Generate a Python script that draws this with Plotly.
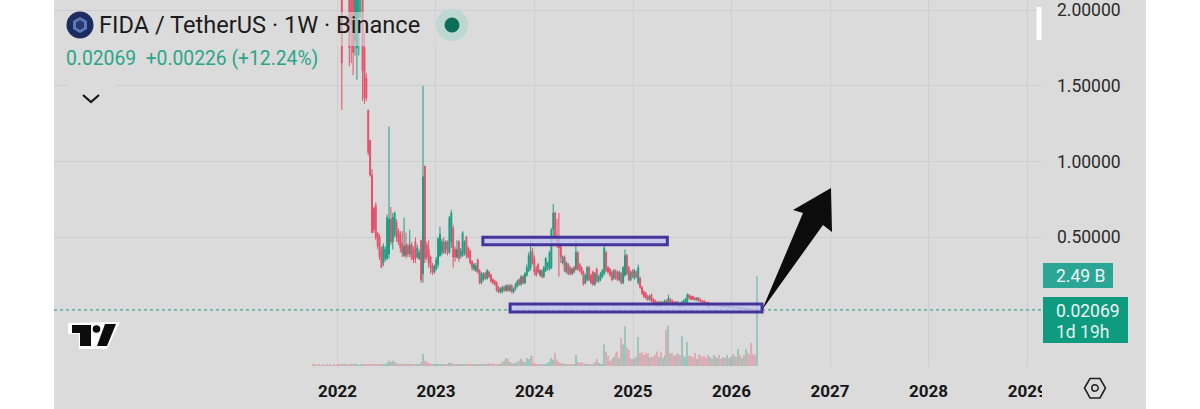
import pandas as pd
import plotly.graph_objects as go

# weekly candles (anything above ~2.07 is out of view)
opens = [
    9.5, 8.2, 7.4, 6.8, 6.1, 6.9, 6.2, 5.6, 5.1, 4.9,
    4.4, 4.0, 3.6, 3.3, 3.0, 2.5, 2.6, 2.9, 3.1, 2.4,
    2.5, 2.3, 1.8, 1.75, 1.95, 2.1, 2.5, 1.75, 1.55, 1.34,
    1.14, .91, .69, .71, .53, .5, .42, .33, .36, .36,
    .39, .62, .47, .52, .6, .54, .52, .46, .38, .45,
    .44, .39, .45, .42, .47, .37, .36, .48, .26, .97,
    .45, .42, .37, .31, .27, .29, .32, .38, .4, .47,
    .42, .47, .4, .47, .56, .42, .37, .47, .38, .38,
    .4, .5, .43, .41, .34, .29, .28, .35, .28, .2,
    .22, .26, .23, .27, .25, .22, .21, .2, .17, .14,
    .14, .17, .15, .18, .15, .18, .14, .16, .18, .22,
    .19, .24, .2, .25, .28, .3, .4, .36, .29, .32,
    .25, .28, .24, .28, .3, .29, .3, .55, .66, .5,
    .5, .44, .33, .37, .27, .32, .3, .26, .3, .29,
    .4, .32, .3, .27, .2, .22, .3, .25, .27, .19,
    .29, .21, .22, .24, .26, .4, .3, .29, .27, .23,
    .28, .27, .22, .26, .2, .25, .38, .3, .22, .28,
    .23, .27, .2, .23, .17, .14, .13, .11, .09, .12,
    .09, .08, .07, .05, .07, .06, .06, .08, .06, .09,
    .08, .07, .06, .07, .06, .05, .06, .07, .07, .12,
    .11, .11, .1, .09, .1, .09, .08, .08, .07, .07,
    .05, .055, .05, .052, .048, .05, .047, .044, .046, .042,
    .044, .04, .041, .037, .038, .034, .035, .031, .032, .028,
    .029, .026, .024, .021, .019, .01843,
]
closes = [
    8.2, 7.4, 6.8, 6.1, 6.9, 6.2, 5.6, 5.1, 4.9, 4.4,
    4.0, 3.6, 3.3, 3.0, 2.5, 1.65, 2.9, 3.1, 2.4, 1.75,
    1.9, 1.72, 2.2, 2.3, 2.4, 2.5, 1.6, 1.42, 1.42, 1.06,
    .91, .53, .55, .5, .44, .37, .3, .44, .42, .63,
    .62, .47, .63, .66, .5, .47, .43, .4, .44, .38,
    .39, .45, .36, .35, .36, .43, .4, .22, .9, .36,
    .37, .33, .3, .27, .31, .35, .49, .52, .47, .4,
    .47, .4, .63, .66, .37, .37, .42, .36, .41, .53,
    .47, .38, .37, .33, .3, .32, .31, .27, .2, .26,
    .26, .23, .28, .24, .21, .2, .19, .15, .14, .16,
    .17, .15, .18, .15, .18, .14, .16, .19, .21, .19,
    .24, .2, .26, .3, .38, .41, .33, .27, .25, .27,
    .28, .24, .3, .36, .33, .4, .55, .66, .5, .45,
    .43, .37, .37, .28, .33, .26, .26, .29, .27, .4,
    .29, .28, .26, .19, .25, .3, .22, .2, .19, .26,
    .21, .24, .26, .28, .43, .28, .27, .25, .22, .28,
    .23, .22, .27, .2, .3, .38, .26, .22, .27, .24,
    .28, .24, .3, .17, .13, .11, .1, .09, .11, .08,
    .07, .06, .05, .07, .05, .07, .08, .06, .1, .07,
    .06, .06, .07, .05, .05, .07, .08, .09, .12, .1,
    .09, .09, .09, .1, .08, .08, .07, .07, .06, .04,
    .055, .05, .052, .048, .05, .047, .044, .046, .042, .044,
    .04, .041, .037, .038, .034, .035, .031, .032, .028, .029,
    .026, .024, .021, .019, .01843, .02069,
]
highs = [
    10, 8.6, 7.9, 7.2, 7.3, 7.2, 6.4, 5.9, 5.3, 5.2,
    4.6, 4.2, 3.8, 3.5, 3.2, 3.0, 3.1, 3.4, 3.4, 2.9,
    2.8, 2.6, 2.6, 2.6, 2.7, 2.8, 2.8, 1.85, 1.58, 1.34,
    1.14, .95, .7, .73, .53, .52, .44, .46, .44, .65,
    1.23, .7, .66, .67, .62, .56, .54, .54, .63, .53,
    .46, .55, .47, .44, .5, .45, .42, .48, 1.5, .97,
    .47, .48, .38, .33, .32, .37, .5, .57, .49, .5,
    .48, .48, .64, .68, .58, .44, .48, .48, .43, .54,
    .48, .51, .44, .42, .35, .33, .33, .36, .29, .27,
    .27, .27, .29, .28, .26, .23, .22, .21, .18, .17,
    .18, .18, .19, .19, .19, .19, .17, .2, .22, .23,
    .25, .25, .27, .32, .4, .48, .43, .38, .31, .33,
    .29, .29, .31, .37, .34, .41, .56, .72, .67, .62,
    .66, .46, .38, .38, .34, .33, .31, .3, .31, .48,
    .41, .33, .31, .28, .26, .31, .31, .26, .28, .27,
    .3, .25, .27, .29, .45, .41, .31, .3, .28, .29,
    .29, .28, .28, .27, .31, .42, .39, .31, .28, .29,
    .29, .28, .32, .24, .18, .15, .14, .12, .12, .13,
    .1, .09, .08, .08, .08, .08, .09, .09, .12, .1,
    .09, .08, .08, .08, .07, .08, .09, .1, .13, .125,
    .115, .115, .105, .105, .105, .095, .085, .085, .075, .075,
    .06, .058, .055, .055, .052, .053, .05, .048, .048, .046,
    .047, .044, .043, .041, .04, .038, .037, .034, .034, .031,
    .031, .028, .026, .023, .021, .026,
]
lows = [
    7.9, 7.1, 6.4, 5.8, 6, 6, 5.4, 4.9, 4.7, 4.2,
    3.8, 3.4, 3.1, 2.8, 2.3, 1.34, 2.2, 2.3, 2.2, 1.63,
    1.65, 1.57, 1.7, 1.54, 1.7, 1.95, 1.4, 1.38, 1.4, 1.04,
    .9, .53, .53, .48, .42, .35, .3, .31, .34, .35,
    .36, .45, .42, .5, .47, .45, .4, .37, .37, .36,
    .37, .37, .35, .33, .33, .36, .35, .2, .2, .33,
    .35, .3, .26, .25, .26, .28, .3, .37, .38, .39,
    .39, .38, .39, .43, .3, .34, .36, .34, .36, .37,
    .38, .36, .36, .32, .28, .28, .27, .26, .19, .19,
    .21, .22, .22, .23, .2, .19, .18, .14, .13, .13,
    .13, .14, .14, .14, .14, .13, .13, .15, .17, .18,
    .18, .19, .19, .24, .27, .28, .32, .25, .24, .26,
    .24, .23, .23, .27, .28, .28, .29, .5, .48, .43,
    .24, .33, .32, .27, .26, .25, .25, .25, .26, .28,
    .28, .27, .25, .18, .19, .21, .21, .19, .18, .18,
    .2, .2, .21, .23, .25, .27, .26, .24, .21, .22,
    .22, .21, .21, .19, .19, .24, .25, .21, .21, .23,
    .22, .23, .19, .16, .12, .1, .09, .08, .08, .07,
    .06, .05, .04, .04, .04, .05, .05, .05, .05, .06,
    .05, .05, .05, .04, .04, .04, .05, .06, .06, .09,
    .085, .085, .08, .08, .075, .07, .065, .06, .05, .035,
    .045, .046, .047, .044, .045, .044, .04, .041, .039, .038,
    .037, .037, .034, .034, .031, .031, .029, .029, .026, .025,
    .024, .022, .019, .017, .016, .017,
]
# volume in billions
volumes = [
    .03, .03, .02, .03, .02, .03, .02, .03, .02, .03,
    .02, .03, .02, .03, .03, .04, .03, .03, .02, .03,
    .03, .04, .03, .03, .02, .03, .03, .04, .03, .03,
    .03, .04, .04, .03, .03, .03, .03, .03, .05, .08,
    .14, .11, .14, .11, .08, .06, .05, .06, .04, .07,
    .05, .04, .06, .04, .03, .05, .04, .11, .33, .14,
    .11, .08, .05, .06, .04, .05, .06, .05, .04, .03,
    .05, .03, .09, .08, .05, .04, .03, .04, .03, .05,
    .03, .03, .04, .03, .03, .03, .05, .03, .03, .03,
    .03, .06, .04, .08, .05, .07, .04, .03, .05, .03,
    .1, .14, .22, .19, .11, .08, .05, .08, .1, .14,
    .19, .14, .1, .22, .19, .28, .28, .08, .06, .05,
    .04, .03, .05, .06, .08, .11, .22, .17, .36, .17,
    .1, .08, .06, .05, .05, .04, .05, .04, .05, .3,
    .11, .08, .1, .06, .06, .05, .05, .04, .05, .11,
    .19, .08, .05, .06, .6, .4, .28, .14, .2, .25,
    .36, .4, .22, .77, .6, 1.1, .5, .45, .2, .18,
    .2, .25, .8, .35, .38, .3, .36, .35, .22, .25,
    .25, .3, .4, .25, .38, .22, .3, 1.0, 1.11, .35,
    .36, .28, .3, .36, .3, .83, .28, .25, .66, .28,
    .28, .25, .36, .2, .3, .3, .25, .28, .22, .3,
    .25, .2, .3, .25, .22, .3, .2, .25, .22, .3,
    .22, .25, .33, .28, .25, .47, .3, .22, .3, .47,
    .36, .3, .64, .33, .3, 2.49,
]
dates = pd.date_range("2021-10-04", periods=len(opens), freq="7D")

year_ticks = ["2022-01-01", "2023-01-01", "2024-01-01", "2025-01-01",
              "2026-01-01", "2027-01-01", "2028-01-01", "2029-01-01"]
year_labels = ["2022", "2023", "2024", "2025", "2026", "2027", "2028", "2029"]
price_ticks = [0.5, 1.0, 1.5, 2.0]
price_labels = ["0.50000", "1.00000", "1.50000", "2.00000"]
last_price = 0.02069

GREEN = "#1f9c80"
RED = "#e2516a"
BG = "#dbdbdb"
GRID = "#cecece"
PURPLE = "#46349c"

W, H = 1200, 409
L, R, B = 54, 158, 42
plot_w = W - L - R
plot_h = H - B


# screen pixels -> paper coordinates, for the overlays drawn on top of the chart
def px(x):
    return round((x - L) / plot_w, 5)


def py(y):
    return round((plot_h - y) / plot_h, 5)


def path(points, close=True):
    d = "M" + " L".join(f"{px(x)},{py(y)}" for x, y in points)
    return d + (" Z" if close else "")


def poly(points, color):
    return dict(type="path", xref="paper", yref="paper", path=path(points),
                fillcolor=color, line=dict(width=0), layer="above")


def box(x0, y0, x1, y1, color, opacity=1, layer="above"):
    return dict(type="rect", xref="paper", yref="paper", x0=px(x0), x1=px(x1), y0=py(y1), y1=py(y0),
                fillcolor=color, opacity=opacity, line=dict(width=0), layer=layer)


def dot(cx, cy, r, color, outline=None):
    return dict(type="circle", xref="paper", yref="paper", x0=px(cx - r), x1=px(cx + r), y0=py(cy + r), y1=py(cy - r),
                fillcolor=color, line=dict(width=1.5 if outline else 0, color=outline), layer="above")


def label(x, y, text, color, size, xanchor="left"):
    return dict(xref="paper", yref="paper", x=px(x), y=py(y), text=text, showarrow=False, xanchor=xanchor,
                yanchor="middle", font=dict(family="Roboto", size=size, color=color))


fig = go.Figure()

vol_colors = [GREEN if c >= o else RED for o, c in zip(opens, closes)]
fig.add_trace(go.Bar(x=dates, y=volumes, yaxis="y2", marker=dict(color=vol_colors, line=dict(width=0)),
                     opacity=0.33, showlegend=False))
fig.add_trace(go.Candlestick(x=dates, open=opens, high=highs, low=lows, close=closes, showlegend=False,
                             increasing=dict(line=dict(color=GREEN, width=1), fillcolor=GREEN),
                             decreasing=dict(line=dict(color=RED, width=1), fillcolor=RED)))

shapes = [
    # grey chart panel behind everything, wider than the plot so it holds the price scale
    box(54, 0, 1146, 409, BG, layer="below"),
    # dotted last price line
    dict(type="line", xref="paper", yref="y", x0=0, x1=1, y0=last_price, y1=last_price,
         line=dict(color=GREEN, width=1.3, dash="dot"), opacity=0.8),
    # hand drawn boxes
    dict(type="rect", xref="x", yref="y", x0="2023-06-24", x1="2025-05-08", y0=0.45, y1=0.5,
         fillcolor="rgba(190,195,240,0.8)", line=dict(color=PURPLE, width=3), layer="above"),
    dict(type="rect", xref="x", yref="y", x0="2023-10-03", x1="2026-04-24", y0=0.0066, y1=0.059,
         fillcolor="rgba(190,195,240,0.75)", line=dict(color=PURPLE, width=3), layer="above"),
    # hand drawn arrow
    poly([(762, 310), (803, 213), (793, 210), (831, 188), (832, 232), (823, 225)], "#0c0c0c"),
    # legend backdrop, the candles show through it
    box(66, 12, 468, 46, BG, opacity=0.6),
    # chevron patch and chevron
    box(68, 84, 115, 90, BG),
    dict(type="path", xref="paper", yref="paper", path=path([(83, 95), (91, 102), (99, 95)], close=False),
         line=dict(color="#161616", width=2.2), layer="above"),
    # symbol logo
    dot(80, 25, 13.5, "#1d2c5e"),
    poly([(80, 17), (87, 21), (87, 29), (80, 33), (73, 29), (73, 21)], "#5b79b8"),
    poly([(80, 20), (84, 22.5), (84, 27.5), (80, 30), (76, 27.5), (76, 22.5)], "#26386f"),
    # live dot
    dot(452, 25, 16, "#bcd8d1"),
    dot(452, 25, 7.5, "#0c6e5b"),
    # tradingview logo
    poly([(68, 323), (120, 322), (107, 349), (79, 349), (79, 334), (68, 334)], "#ffffff"),
    poly([(72, 325), (91, 325), (91, 346), (80, 346), (80, 333), (72, 333)], "#0c0c0c"),
    dot(96.5, 329, 3.8, "#0c0c0c"),
    poly([(105, 324), (116, 324), (107, 346), (97, 346)], "#0c0c0c"),
    # scale handle
    box(1036.5, 7, 1041.5, 40, "#ffffff"),
    # right end of the time scale is cut off
    box(1042, 372, 1146, 406, BG),
    # value tags
    box(1043, 263, 1113, 288, "#2ba596"),
    box(1043, 297, 1128, 343, "#0f9b80"),
    # settings hexagon
    dict(type="path", xref="paper", yref="paper",
         path=path([(1084.5, 388), (1090, 378.5), (1100, 378.5), (1105.5, 388), (1100, 398), (1090, 398)]),
         line=dict(color="#222222", width=1.6), layer="above"),
    dot(1095, 388, 3.2, BG, outline="#222222"),
]

annotations = [
    label(97, 25, "FIDA / TetherUS · 1W · Binance", "#1c1c1c", 23.6),
    label(64, 59, "0.02069  +0.00226 (+12.24%)", "#2aa58a", 19.3),
    label(1054, 276, "2.49 B", "#f0f7f5", 17.5),
    label(1054, 311, "0.02069", "#f0f7f5", 17.5),
    label(1054, 332, "1d 19h", "#e3f2ee", 17.5),
]

fig.update_layout(
    width=W, height=H,
    autosize=False,
    margin=dict(l=L, r=R, t=0, b=B),
    paper_bgcolor="#ffffff",
    plot_bgcolor="rgba(0,0,0,0)",
    showlegend=False,
    bargap=0.4,
    xaxis=dict(type="date", range=["2019-02-15", "2029-02-25"], rangeslider=dict(visible=False),
               tickmode="array", tickvals=year_ticks, ticktext=year_labels, showgrid=True, gridcolor=GRID,
               gridwidth=1, zeroline=False, showline=False, ticks="", ticklabelstandoff=12,
               tickfont=dict(family="Roboto", size=17, color="#161616", weight=700)),
    yaxis=dict(side="right", range=[-0.356, 2.066], tickmode="array", tickvals=price_ticks, ticktext=price_labels,
               showgrid=True, gridcolor=GRID, gridwidth=1, zeroline=False, showline=False, ticks="",
               ticklabelstandoff=14, tickfont=dict(family="Roboto", size=17.5, color="#2a2a2a")),
    yaxis2=dict(overlaying="y", range=[-0.03, 10.13], visible=False),
    shapes=shapes,
    annotations=annotations,
)

# the browser's default body margin would push the 1200 px figure off the window
fig.write_html("out.html", config={"displayModeBar": False}, post_script="document.body.style.margin='0';")
